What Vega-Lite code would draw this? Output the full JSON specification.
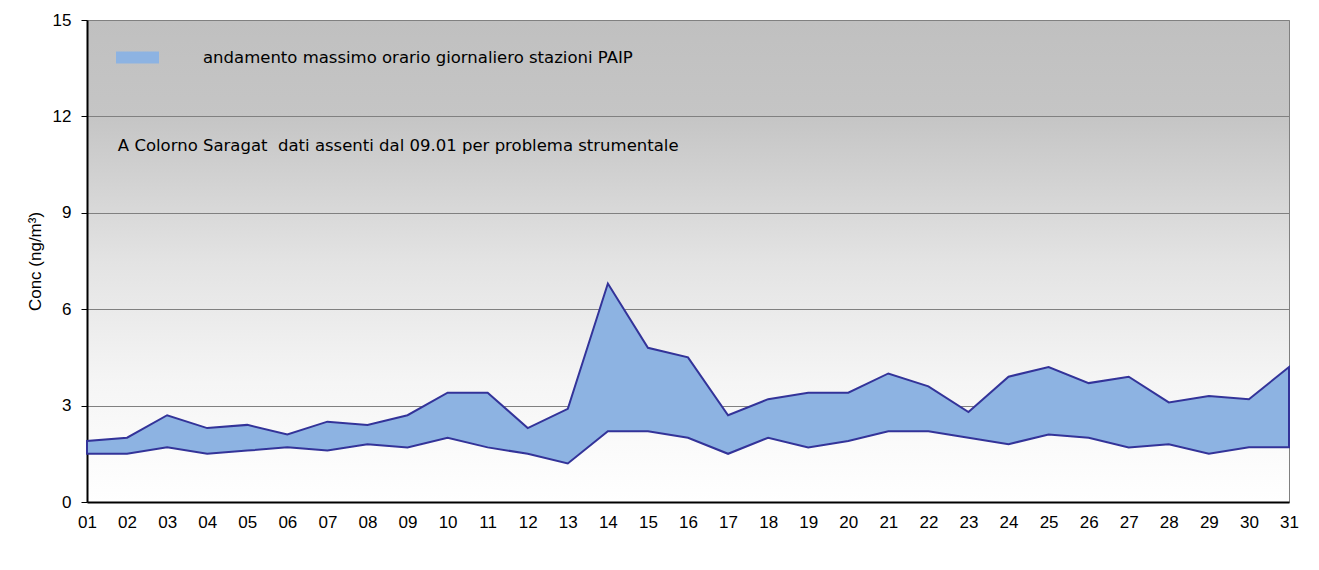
{
  "$schema": "https://vega.github.io/schema/vega-lite/v6.json",
  "autosize": "none",
  "width": 1202,
  "height": 482,
  "padding": {"left": 87, "top": 20, "right": 30, "bottom": 68},
  "background": "#ffffff",
  "config": {
    "font": "Liberation Sans",
    "view": {
      "stroke": "#808080",
      "strokeWidth": 1,
      "fill": {
        "gradient": "linear",
        "x1": 0, "y1": 0, "x2": 0, "y2": 1,
        "stops": [
          {"offset": 0, "color": "#c0c0c0"},
          {"offset": 0.2, "color": "#c5c5c5"},
          {"offset": 0.5, "color": "#e3e3e3"},
          {"offset": 0.75, "color": "#f5f5f5"},
          {"offset": 1, "color": "#ffffff"}
        ]
      }
    }
  },
  "datasets": {
    "days": [
      {"day": 1, "lo": 1.5, "hi": 1.9, "serie": "andamento massimo orario giornaliero stazioni PAIP"},
      {"day": 2, "lo": 1.5, "hi": 2.0, "serie": "andamento massimo orario giornaliero stazioni PAIP"},
      {"day": 3, "lo": 1.7, "hi": 2.7, "serie": "andamento massimo orario giornaliero stazioni PAIP"},
      {"day": 4, "lo": 1.5, "hi": 2.3, "serie": "andamento massimo orario giornaliero stazioni PAIP"},
      {"day": 5, "lo": 1.6, "hi": 2.4, "serie": "andamento massimo orario giornaliero stazioni PAIP"},
      {"day": 6, "lo": 1.7, "hi": 2.1, "serie": "andamento massimo orario giornaliero stazioni PAIP"},
      {"day": 7, "lo": 1.6, "hi": 2.5, "serie": "andamento massimo orario giornaliero stazioni PAIP"},
      {"day": 8, "lo": 1.8, "hi": 2.4, "serie": "andamento massimo orario giornaliero stazioni PAIP"},
      {"day": 9, "lo": 1.7, "hi": 2.7, "serie": "andamento massimo orario giornaliero stazioni PAIP"},
      {"day": 10, "lo": 2.0, "hi": 3.4, "serie": "andamento massimo orario giornaliero stazioni PAIP"},
      {"day": 11, "lo": 1.7, "hi": 3.4, "serie": "andamento massimo orario giornaliero stazioni PAIP"},
      {"day": 12, "lo": 1.5, "hi": 2.3, "serie": "andamento massimo orario giornaliero stazioni PAIP"},
      {"day": 13, "lo": 1.2, "hi": 2.9, "serie": "andamento massimo orario giornaliero stazioni PAIP"},
      {"day": 14, "lo": 2.2, "hi": 6.8, "serie": "andamento massimo orario giornaliero stazioni PAIP"},
      {"day": 15, "lo": 2.2, "hi": 4.8, "serie": "andamento massimo orario giornaliero stazioni PAIP"},
      {"day": 16, "lo": 2.0, "hi": 4.5, "serie": "andamento massimo orario giornaliero stazioni PAIP"},
      {"day": 17, "lo": 1.5, "hi": 2.7, "serie": "andamento massimo orario giornaliero stazioni PAIP"},
      {"day": 18, "lo": 2.0, "hi": 3.2, "serie": "andamento massimo orario giornaliero stazioni PAIP"},
      {"day": 19, "lo": 1.7, "hi": 3.4, "serie": "andamento massimo orario giornaliero stazioni PAIP"},
      {"day": 20, "lo": 1.9, "hi": 3.4, "serie": "andamento massimo orario giornaliero stazioni PAIP"},
      {"day": 21, "lo": 2.2, "hi": 4.0, "serie": "andamento massimo orario giornaliero stazioni PAIP"},
      {"day": 22, "lo": 2.2, "hi": 3.6, "serie": "andamento massimo orario giornaliero stazioni PAIP"},
      {"day": 23, "lo": 2.0, "hi": 2.8, "serie": "andamento massimo orario giornaliero stazioni PAIP"},
      {"day": 24, "lo": 1.8, "hi": 3.9, "serie": "andamento massimo orario giornaliero stazioni PAIP"},
      {"day": 25, "lo": 2.1, "hi": 4.2, "serie": "andamento massimo orario giornaliero stazioni PAIP"},
      {"day": 26, "lo": 2.0, "hi": 3.7, "serie": "andamento massimo orario giornaliero stazioni PAIP"},
      {"day": 27, "lo": 1.7, "hi": 3.9, "serie": "andamento massimo orario giornaliero stazioni PAIP"},
      {"day": 28, "lo": 1.8, "hi": 3.1, "serie": "andamento massimo orario giornaliero stazioni PAIP"},
      {"day": 29, "lo": 1.5, "hi": 3.3, "serie": "andamento massimo orario giornaliero stazioni PAIP"},
      {"day": 30, "lo": 1.7, "hi": 3.2, "serie": "andamento massimo orario giornaliero stazioni PAIP"},
      {"day": 31, "lo": 1.7, "hi": 4.2, "serie": "andamento massimo orario giornaliero stazioni PAIP"}
    ],
    "notes": [
      {"day": 1.77, "v": 11.08, "label": "A Colorno Saragat\u00a0 dati assenti dal 09.01 per problema strumentale"}
    ]
  },
  "layer": [
    {
      "data": {"name": "days"},
      "mark": {"type": "area", "stroke": "#333399", "strokeWidth": 2, "opacity": 1, "fillOpacity": 1},
      "encoding": {
        "x": {
          "field": "day", "type": "quantitative",
          "scale": {"domain": [1, 31], "nice": false, "zero": false},
          "axis": {
            "title": null,
            "values": [1,2,3,4,5,6,7,8,9,10,11,12,13,14,15,16,17,18,19,20,21,22,23,24,25,26,27,28,29,30,31],
            "labelExpr": "datum.value < 10 ? '0' + datum.value : '' + datum.value",
            "grid": false,
            "ticks": false,
            "domainColor": "#000000",
            "domainWidth": 2,
            "labelFontSize": 17,
            "labelColor": "#000000",
            "labelPadding": 12,
            "labelFlush": false,
            "labelOverlap": false
          }
        },
        "y": {
          "field": "lo", "type": "quantitative",
          "scale": {"domain": [0, 15], "nice": false},
          "axis": {
            "title": "Conc (ng/m³)",
            "titleFontSize": 17,
            "titleFontWeight": "normal",
            "titleColor": "#000000",
            "titlePadding": 8,
            "values": [0, 3, 6, 9, 12, 15],
            "grid": true,
            "gridColor": "#808080",
            "gridOpacity": 1,
            "gridWidth": 1,
            "domainColor": "#000000",
            "domainWidth": 2,
            "tickColor": "#000000",
            "tickSize": 6,
            "labelFontSize": 17,
            "labelColor": "#000000",
            "labelPadding": 10
          }
        },
        "y2": {"field": "hi"},
        "color": {
          "field": "serie", "type": "nominal",
          "scale": {"range": ["#8db3e2"]},
          "legend": {
            "title": null,
            "orient": "none",
            "legendX": 29,
            "legendY": 16,
            "padding": 0,
            "symbolType": "M-1,-0.28H1V0.28H-1Z",
            "symbolSize": 1849,
            "symbolStrokeWidth": 0,
            "symbolFillColor": "#8db3e2",
            "symbolOpacity": 1,
            "labelFont": "DejaVu Sans",
            "labelFontSize": 16.5,
            "labelColor": "#000000",
            "labelOffset": 44,
            "labelLimit": 800
          }
        }
      }
    },
    {
      "data": {"name": "notes"},
      "mark": {"type": "text", "align": "left", "baseline": "middle", "font": "DejaVu Sans", "fontSize": 16.5, "color": "#000000"},
      "encoding": {
        "x": {"field": "day", "type": "quantitative"},
        "y": {"field": "v", "type": "quantitative"},
        "text": {"field": "label"}
      }
    }
  ]
}
